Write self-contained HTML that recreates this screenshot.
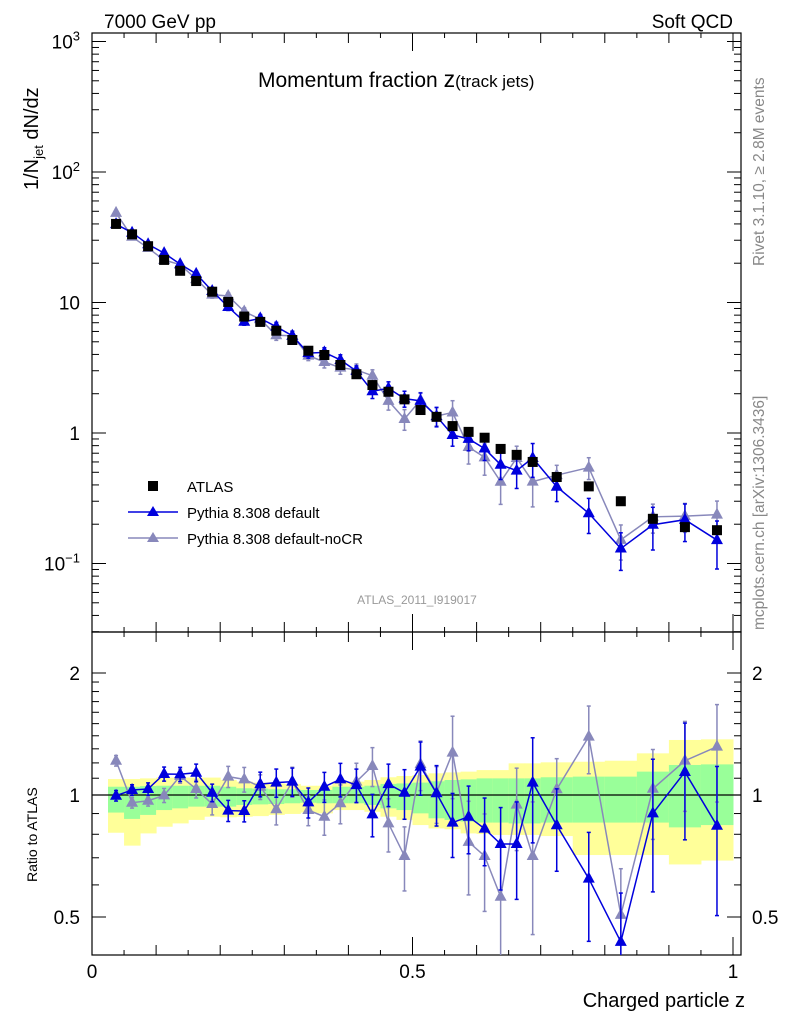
<!DOCTYPE html>
<html><head><meta charset="utf-8"><style>
body{margin:0;background:#fff}
svg{display:block;font-family:"Liberation Sans","DejaVu Sans",sans-serif}
</style></head><body>
<svg id="chart" width="786" height="1024" viewBox="0 0 786 1024">
<g id="bands"></g>
<g id="axes"></g>
<g id="series"></g>
<text x="104" y="28" font-size="19">7000 GeV pp</text>
<text x="733" y="28" font-size="19" text-anchor="end">Soft QCD</text>
<text x="258" y="87" font-size="21">Momentum fraction <tspan font-size="23">z</tspan><tspan font-size="17">(track jets)</tspan></text>
<text x="417" y="604" font-size="12" fill="#999" text-anchor="middle">ATLAS_2011_I919017</text>
<text transform="translate(764,266) rotate(-90)" font-size="15.5" fill="#888">Rivet 3.1.10, ≥ 2.8M events</text>
<text transform="translate(764,630) rotate(-90)" font-size="15.5" fill="#888">mcplots.cern.ch [arXiv:1306.3436]</text>
<text transform="translate(38,190) rotate(-90)" font-size="20">1/N<tspan font-size="13" dy="5">jet</tspan><tspan dy="-5"> dN/dz</tspan></text>
<text transform="translate(37,882) rotate(-90)" font-size="14">Ratio to ATLAS</text>
<text x="745" y="1007" font-size="20" text-anchor="end">Charged particle z</text>
<g>
<rect x="148" y="481" width="10" height="10" fill="#000"/>
<text x="187" y="492" font-size="15">ATLAS</text>
<line x1="128" y1="512" x2="178" y2="512" stroke="#0000dd" stroke-width="1.5"/>
<polygon points="153,506 159,516 147,516" fill="#0000dd"/>
<text x="187" y="518" font-size="15">Pythia 8.308 default</text>
<line x1="128" y1="538" x2="178" y2="538" stroke="#8888bb" stroke-width="1.5"/>
<polygon points="153,532 159,542 147,542" fill="#8888bb"/>
<text x="187" y="544" font-size="15">Pythia 8.308 default-noCR</text>
</g>
</svg>
<script>
const binCenters=[0.0375,0.0625,0.0875,0.1125,0.1375,0.1625,0.1875,0.2125,0.2375,0.2625,0.2875,0.3125,0.3375,0.3625,0.3875,0.4125,0.4375,0.4625,0.4875,0.5125,0.5375,0.5625,0.5875,0.6125,0.6375,0.6625,0.6875,0.725,0.775,0.825,0.875,0.925,0.975];
const binEdgesLow=[0.025,0.05,0.075,0.1,0.125,0.15,0.175,0.2,0.225,0.25,0.275,0.3,0.325,0.35,0.375,0.4,0.425,0.45,0.475,0.5,0.525,0.55,0.575,0.6,0.625,0.65,0.675,0.7,0.75,0.8,0.85,0.9,0.95];
const binEdgesHigh=[0.05,0.075,0.1,0.125,0.15,0.175,0.2,0.225,0.25,0.275,0.3,0.325,0.35,0.375,0.4,0.425,0.45,0.475,0.5,0.525,0.55,0.575,0.6,0.625,0.65,0.675,0.7,0.75,0.8,0.85,0.9,0.95,1.0];
const atlasValues=[40,33.3,27,21.2,17.5,14.6,12.1,10.1,7.8,7.1,6.08,5.16,4.27,3.96,3.32,2.82,2.33,2.07,1.81,1.50,1.33,1.13,1.02,0.92,0.755,0.68,0.60,0.46,0.39,0.30,0.22,0.19,0.18];
const ratioDefault=[0.996,1.029,1.035,1.127,1.125,1.135,1.013,0.915,0.913,1.064,1.073,1.079,0.959,1.048,1.093,1.058,0.896,1.064,1.013,1.175,1.01,0.855,0.884,0.826,0.757,0.757,1.073,0.842,0.622,0.434,0.901,1.14,0.84];
const errDefault=[.03,.03,.035,.04,.04,.05,.05,.06,.06,.07,.08,.08,.085,.085,.095,.095,.12,.12,.14,.15,.17,.18,.19,.19,.23,.27,.29,.23,.3,.32,.36,.32,.4];
const ratioNoCR=[1.215,0.957,0.968,0.998,1.114,1.035,0.95,1.11,1.093,1.048,0.922,1.079,0.918,0.884,0.954,1.079,1.179,0.851,0.707,1.192,1.013,1.272,0.766,0.707,0.561,0.947,0.707,1.033,1.393,0.506,1.036,1.215,1.316];
const errNoCR=[.03,.03,.03,.04,.04,.05,.06,.06,.07,.07,.085,.085,.085,.1,.11,.11,.11,.15,.18,.14,.16,.23,.26,.27,.33,.23,.36,.19,.19,.3,.25,.25,.27];
const yellowUp=[1.095,1.095,1.099,1.104,1.104,1.104,1.104,1.089,1.079,1.073,1.068,1.065,1.054,1.054,1.079,1.079,1.089,1.106,1.114,1.12,1.131,1.137,1.142,1.152,1.152,1.197,1.197,1.204,1.208,1.215,1.267,1.367,1.372];
const yellowDown=[0.807,0.75,0.804,0.835,0.851,0.868,0.884,0.881,0.884,0.887,0.893,0.898,0.905,0.901,0.918,0.918,0.909,0.884,0.868,0.843,0.827,0.823,0.804,0.801,0.797,0.797,0.797,0.792,0.711,0.711,0.711,0.674,0.689];
const greenUp=[1.048,1.048,1.052,1.054,1.054,1.054,1.054,1.048,1.039,1.037,1.033,1.033,1.029,1.029,1.048,1.048,1.054,1.065,1.068,1.073,1.081,1.089,1.093,1.099,1.099,1.099,1.099,1.106,1.11,1.11,1.142,1.186,1.19];
const greenDown=[0.905,0.873,0.893,0.918,0.927,0.936,0.936,0.936,0.945,0.948,0.95,0.954,0.957,0.954,0.954,0.954,0.945,0.927,0.918,0.901,0.876,0.868,0.86,0.855,0.855,0.851,0.851,0.855,0.855,0.855,0.855,0.832,0.843];
const mainTickLabels=["10^3","10^2","10","1","10^-1"];
const mainTickValues=[1000,100,10,1,0.1];
const ratioTickValues=[2,1,0.5];
const ratioTickLabels=["2","1","0.5"];
const xTickValues=[0,0.5,1];
const xTickLabels=["0","0.5","1"];

const NS="http://www.w3.org/2000/svg";
const X0=92,X1=741,MT=33,MB=632,RT=632,RB=955;
function xs(z){return 92+641*z;}
function ym(v){return 433-130.5*Math.log10(v);}
function yr(r){return 795-122*Math.log2(r);}
function mk(tag,attrs,parent){const e=document.createElementNS(NS,tag);for(const k in attrs)e.setAttribute(k,attrs[k]);parent.appendChild(e);return e;}
const axes=document.getElementById('axes'),series=document.getElementById('series'),bands=document.getElementById('bands');
const svg=document.getElementById('chart');
const defs=mk('defs',{},svg);
const cpM=mk('clipPath',{id:'clipM'},defs);mk('rect',{x:X0,y:MT,width:X1-X0,height:MB-MT},cpM);
const cpR=mk('clipPath',{id:'clipR'},defs);mk('rect',{x:X0,y:RT,width:X1-X0,height:RB-RT},cpR);
bands.setAttribute('clip-path','url(#clipR)');
for(let i=0;i<binCenters.length;i++){
  const x=xs(binEdgesLow[i]),w=xs(binEdgesHigh[i])-x;
  const yb=mk('rect',{x:x,y:yr(yellowUp[i]),width:w+0.5,height:yr(yellowDown[i])-yr(yellowUp[i]),fill:'#ffff99'},bands);
  
  
  const gb=mk('rect',{x:x,y:yr(greenUp[i]),width:w+0.5,height:yr(greenDown[i])-yr(greenUp[i]),fill:'#99ff99'},bands);
  
  
}
const f1=mk('rect',{x:X0,y:MT,width:X1-X0,height:MB-MT,fill:'none',stroke:'#000','stroke-width':1.2},axes);


const f2=mk('rect',{x:X0,y:RT,width:X1-X0,height:RB-RT,fill:'none',stroke:'#000','stroke-width':1.2},axes);


const l1=mk('line',{x1:X0,x2:X1,y1:yr(1),y2:yr(1),stroke:'#000','stroke-width':1.2},axes);


function tick(x1,y1,x2,y2){mk('line',{x1:x1,y1:y1,x2:x2,y2:y2,stroke:'#000','stroke-width':1},axes);}
for(let d=-2;d<=3;d++){for(let m=1;m<10;m++){const v=m*Math.pow(10,d);const y=ym(v);if(y<MT||y>MB)continue;const L=m===1?14:7;tick(X0,y,X0+L,y);tick(X1,y,X1-L,y);}}
mainTickValues.forEach((v,i)=>{
  const s=mainTickLabels[i];const t=mk('text',{x:80,y:ym(v)+7,'font-size':19,'text-anchor':'end'},axes);
  
  
  if(s.indexOf('^')>=0){const p=s.split('^');t.textContent=p[0];const sp=mk('tspan',{dy:-8,'font-size':13},t);sp.textContent=p[1].replace('-','−');}else t.textContent=s;
});
for(let r=0.4;r<=2.5;r+= (r<2-1e-9?0.1:0.5)){const y=yr(r);if(y<RT||y>RB)continue;const maj=[0.5,1,2].some(q=>Math.abs(q-r)<1e-6);const L=maj?14:7;tick(X0,y,X0+L,y);tick(X1,y,X1-L,y);}
ratioTickValues.forEach((v,i)=>{
  const t=mk('text',{x:80,y:yr(v)+7,'font-size':19,'text-anchor':'end'},axes);t.textContent=ratioTickLabels[i];
  
  
  const t2=mk('text',{x:752,y:yr(v)+7,'font-size':19},axes);t2.textContent=ratioTickLabels[i];
  
  
});
for(let k=0;k<=20;k++){const z=k*0.05;const x=xs(z);const L=(k%10===0)?18:(k%2===0?10:5);
  tick(x,MB,x,MB-L);tick(x,MT,x,MT+L);tick(x,RB,x,RB-L);tick(x,RT,x,RT+L);}
xTickValues.forEach((v,i)=>{const t=mk('text',{x:xs(v),y:978,'font-size':19,'text-anchor':'middle'},axes);t.textContent=xTickLabels[i];
  
  });
const gM=mk('g',{'clip-path':'url(#clipM)'},series);
const gR=mk('g',{'clip-path':'url(#clipR)'},series);
function tri(g,x,y,c,name){const p=mk('polygon',{points:`${x},${y-7} ${x+6},${y+4} ${x-6},${y+4}`,fill:c},g);
  
  }
function errbar(g,x,y1,y2,c){mk('line',{x1:x,x2:x,y1:y1,y2:y2,stroke:c,'stroke-width':1.5},g);mk('line',{x1:x-2,x2:x+2,y1:y1,y2:y1,stroke:c,'stroke-width':1.5},g);mk('line',{x1:x-2,x2:x+2,y1:y2,y2:y2,stroke:c,'stroke-width':1.5},g);}
function drawMC(ratios,errs,color,name){
  const mainPts=[],ratPts=[];
  ratios.forEach((r,i)=>{const v=atlasValues[i]*r;mainPts.push(xs(binCenters[i])+','+ym(v));ratPts.push(xs(binCenters[i])+','+yr(r));});
  const pl=mk('polyline',{points:mainPts.join(' '),fill:'none',stroke:color,'stroke-width':1.5},gM);
  
  
  const pr=mk('polyline',{points:ratPts.join(' '),fill:'none',stroke:color,'stroke-width':1.5},gR);
  
  
  ratios.forEach((r,i)=>{const x=xs(binCenters[i]);const v=atlasValues[i]*r;const e=errs[i];
    errbar(gM,x,ym(v*(1+e)),ym(v*Math.max(0.05,1-e)),color);
    errbar(gR,x,yr(r*(1+e)),yr(r*Math.max(0.05,1-e)),color);
    tri(gM,x,ym(v),color,name+'-point');tri(gR,x,yr(r),color,name+'-ratio-point');});
}
drawMC(ratioNoCR,errNoCR,'#8888bb','pythia-nocr');
drawMC(ratioDefault,errDefault,'#0000dd','pythia-default');
atlasValues.forEach((v,i)=>{const x=xs(binCenters[i]);const s=mk('rect',{x:x-5,y:ym(v)-5,width:10,height:10,fill:'#000'},gM);
  
  });
</script>
</body></html>
